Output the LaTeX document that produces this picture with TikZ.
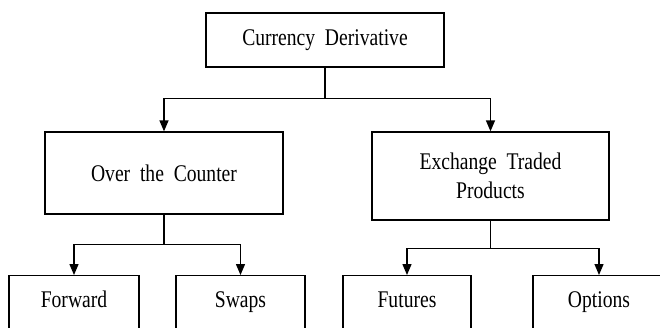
\documentclass[tikz,border=0pt]{standalone}
\usepackage{fontspec}
\setmainfont{Liberation Serif}[FakeStretch=0.82,WordSpace=2]
\usetikzlibrary{arrows.meta,positioning}
\tikzset{
    %Define style for boxes
    kasse/.style={
           rectangle,
           draw=black, line width=1.3bp,
           font=\fontsize{24}{29}\selectfont,
           align=center,
           inner sep=0pt},
    % Boxes at the bottom, cut off by the page edge
    blad/.style={
           kasse,
           anchor=north,
           text height=32bp,
           text depth=40bp},
    % Define arrow style
    pil/.style={
           -{Triangle[length=11bp,width=9bp]},
           line width=1.3bp}
}

\begin{document}
\begin{tikzpicture}[x=1bp,y=-1bp]
\path[use as bounding box] (0,0) rectangle (660,327);
\clip (0,0) rectangle (660,327);

% Root and the two kinds of market
\node[kasse, minimum width=238bp, minimum height=54bp] (cur) at (325,40) {Currency Derivative};
\node[kasse, minimum width=238bp, minimum height=82bp] (otc) at (164,173) {Over the Counter};
\node[kasse, minimum width=237bp, minimum height=88bp] (etp) at (490.5,176) {Exchange Traded\\Products};

% The products themselves
\node[blad, minimum width=130bp] (fwd) at (74,275) {Forward};
\node[blad, minimum width=129bp] (swp) at (240.5,275) {Swaps};
\node[blad, minimum width=128bp] (fut) at (407,275) {Futures};
\node[blad, minimum width=132bp] (opt) at (599,275) {Options};

% Branch points below each parent
\path (cur.south) ++(0,31) coordinate (curJ);
\path (otc.south) ++(0,30) coordinate (otcJ);
\path (etp.south) ++(0,28) coordinate (etpJ);

% Now connect the nodes
\draw[line width=1.3bp] (cur.south) -- (curJ);
\draw[pil] (curJ) -| (otc.north);
\draw[pil] (curJ) -| (etp.north);

\draw[line width=1.3bp] (otc.south) -- (otcJ);
\draw[pil] (otcJ) -| (fwd.north);
\draw[pil] (otcJ) -| (swp.north);

\draw[line width=1.3bp] (etp.south) -- (etpJ);
\draw[pil] (etpJ) -| (fut.north);
\draw[pil] (etpJ) -| (opt.north);
\end{tikzpicture}
\end{document}
